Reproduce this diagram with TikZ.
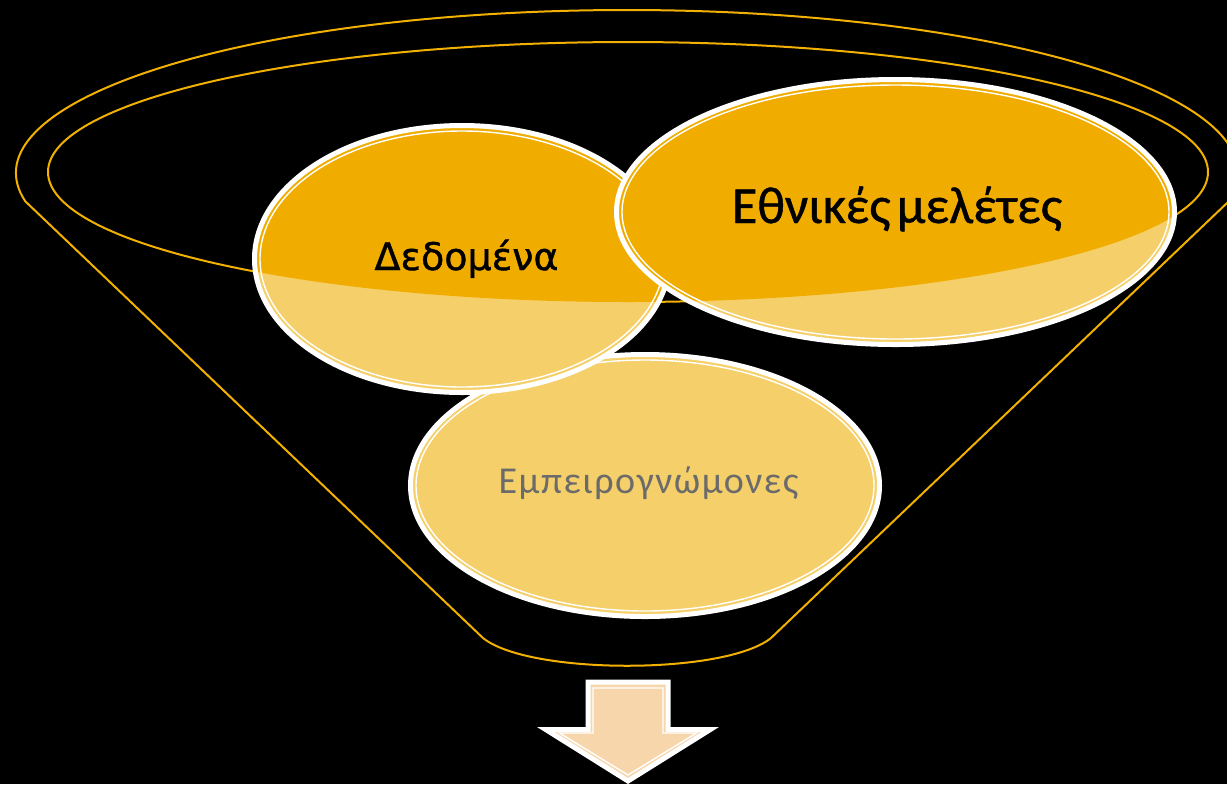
\documentclass[tikz,border=0pt]{standalone}
\usepackage{fontspec}
\setmainfont{Carlito}
\newfontfamily\dejavu[FakeBold=1]{DejaVu Sans}
\newfontfamily\ethfont[FakeBold=0.8]{Carlito}
\newfontfamily\empfont[LetterSpace=4]{Carlito}
\definecolor{funnelline}{HTML}{F2B000}
\definecolor{darkor}{HTML}{F0AD00}
\definecolor{lightor}{HTML}{F5CF69}
\definecolor{arrowfill}{HTML}{F7D6AC}
\definecolor{graytext}{HTML}{6B6B6B}
\newcommand\bubbleshape[4]{%
  \fill[lightor] (#1,#2) ellipse [x radius=#3-3, y radius=#4-3];
  \begin{scope}
    \clip (628,172) ellipse [x radius=580, y radius=130];
    \fill[darkor] (#1,#2) ellipse [x radius=#3-3, y radius=#4-3];
  \end{scope}
  \draw[outerband] (#1,#2) ellipse [x radius=#3-2.5, y radius=#4-2.5];
  \draw[innerband] (#1,#2) ellipse [x radius=#3-8, y radius=#4-8];
}
\begin{document}
\begin{tikzpicture}[x=0.5pt,y=-0.5pt,
  rim/.style={draw=funnelline, line width=1pt},
  outerband/.style={draw=white, line width=2.5pt},
  innerband/.style={draw=white, line width=0.7pt},
  lbl/.style={inner sep=0pt, anchor=base}]
\fill[black] (0,0) rectangle (1227,784);
\useasboundingbox (0,0) rectangle (1227,784);
% funnel outline
\draw[rim, line join=round] (25.3,201.3) arc[start angle=170, end angle=370, x radius=611, y radius=163]
  -- (771,638) .. controls (725,675) and (529,675) .. (483,638) -- cycle;
\draw[rim] (628,172) ellipse [x radius=580, y radius=130];
% bubbles
\bubbleshape{645}{485.5}{237}{133.5}
\bubbleshape{462}{259}{210}{136}
\bubbleshape{895.5}{212}{281.5}{135}
% labels
\node[lbl, font=\dejavu\fontsize{19}{21}\selectfont] (ded) at (466.5,270) {Δεδομένα};
\node[lbl, font=\ethfont\fontsize{26}{28}\selectfont] (eth) at (897,223) {Εθνικές\hspace{0.12em}μελέτες};
\node[lbl, text=graytext, font=\empfont\fontsize{19}{22}\selectfont] (emp) at (648.5,493) {Εμπειρογνώμονες};
% arrow
\filldraw[fill=arrowfill, outerband, line join=miter] (588,682) -- (668,682) -- (668,729.5) -- (710.3,729.5)
  -- (628,781) -- (545.7,729.5) -- (588,729.5) -- cycle;
\draw[innerband, line join=miter] (593,688) -- (663,688) -- (663,733) -- (696.5,733) -- (628,775)
  -- (559.5,733) -- (593,733) -- cycle;
\end{tikzpicture}
\end{document}
